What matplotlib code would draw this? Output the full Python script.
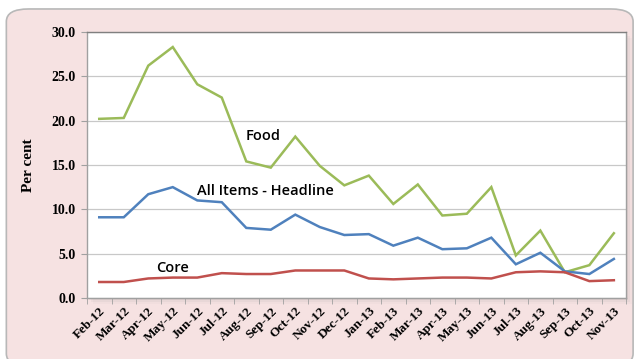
import numpy as np
import matplotlib
matplotlib.use("Agg")
import matplotlib.pyplot as plt
from matplotlib.patches import FancyBboxPatch, Rectangle

# Series (per cent, year-on-year)
meses = ["Feb-12", "Mar-12", "Apr-12", "May-12", "Jun-12", "Jul-12", "Aug-12",
         "Sep-12", "Oct-12", "Nov-12", "Dec-12", "Jan-13", "Feb-13", "Mar-13",
         "Apr-13", "May-13", "Jun-13", "Jul-13", "Aug-13", "Sep-13", "Oct-13",
         "Nov-13"]
food = [20.2, 20.3, 26.2, 28.3, 24.1, 22.6, 15.4, 14.7, 18.2, 14.9, 12.7,
        13.8, 10.6, 12.8, 9.3, 9.5, 12.5, 4.8, 7.6, 2.9, 3.7, 7.3]
headline = [9.1, 9.1, 11.7, 12.5, 11.0, 10.8, 7.9, 7.7, 9.4, 8.0, 7.1,
            7.2, 5.9, 6.8, 5.5, 5.6, 6.8, 3.8, 5.1, 3.0, 2.7, 4.4]
core = [1.8, 1.8, 2.2, 2.3, 2.3, 2.8, 2.7, 2.7, 3.1, 3.1, 3.1,
        2.2, 2.1, 2.2, 2.3, 2.3, 2.2, 2.9, 3.0, 2.9, 1.9, 2.0]
yticks = [0, 5, 10, 15, 20, 25, 30]

fuente_ejes = "Liberation Serif"
fuente_txt = "Open Sans"

fig = plt.figure(figsize=(6.35, 3.59), dpi=100)
fig.patch.set_facecolor("white")

# marco rosado con esquinas redondeadas
marco = FancyBboxPatch((0.010, -0.02), 0.987, 0.995,
                       boxstyle="round,pad=0,rounding_size=0.035",
                       transform=fig.transFigure, facecolor="#f6e2e2",
                       edgecolor="#b8b8b8", linewidth=1.2, zorder=0)
fig.patches.append(marco)

ax = fig.add_axes([0.137, 0.170, 0.849, 0.741])
ax.set_zorder(2)

# sombra del área de gráfico
for k, a in enumerate([0.10, 0.07, 0.04]):
    d = 0.003 * (k + 1)
    sombra = Rectangle((0.137 + d, 0.170 - 2 * d), 0.849, 0.741,
                       transform=fig.transFigure, facecolor="#808080",
                       edgecolor="none", alpha=a, zorder=0.5)
    fig.patches.append(sombra)

x = np.arange(len(meses))
ax.plot(x, food, color="#9bbb59", lw=1.8, solid_joinstyle="miter", zorder=3)
ax.plot(x, headline, color="#4f81bd", lw=1.8, solid_joinstyle="miter", zorder=3)
ax.plot(x, core, color="#c0504d", lw=1.8, solid_joinstyle="miter", zorder=3)

ax.set_xlim(-0.5, len(meses) - 0.5)
ax.set_ylim(0, 30)
ax.set_yticks(yticks)
ax.set_yticklabels([f"{v:.1f}" for v in yticks], fontfamily=fuente_ejes,
                   fontweight="bold", fontsize=10)
ax.yaxis.grid(True, color="#c8c8c8", lw=0.9)
ax.set_axisbelow(True)

ax.set_xticks(x)
ax.set_xticklabels(meses, rotation=45, ha="right", rotation_mode="anchor",
                   fontfamily=fuente_ejes, fontweight="bold", fontsize=9.5)
ax.tick_params(axis="x", which="major", length=0, pad=5)
ax.set_xticks(np.arange(-0.5, len(meses)), minor=True)
ax.tick_params(axis="x", which="minor", length=4, color="#a0a0a0")
ax.tick_params(axis="y", length=4, color="#a0a0a0", pad=4)

for s in ax.spines.values():
    s.set_color("#a0a0a0")
    s.set_linewidth(1.0)
ax.spines["top"].set_color("#808080")

ax.set_ylabel("Per cent", fontfamily=fuente_ejes, fontweight="bold",
              fontsize=11, labelpad=12)

ax.text(6.7, 18.3, "Food", fontfamily=fuente_txt, fontsize=10.5, fontweight="semibold",
        ha="center", va="center")
ax.text(6.8, 12.1, "All Items - Headline", fontfamily=fuente_txt, fontsize=10.5,
        fontweight="semibold", ha="center", va="center")
ax.text(3.0, 3.4, "Core", fontfamily=fuente_txt, fontsize=10.5, fontweight="semibold",
        ha="center", va="center")

fig.savefig("out.png", dpi=100)
